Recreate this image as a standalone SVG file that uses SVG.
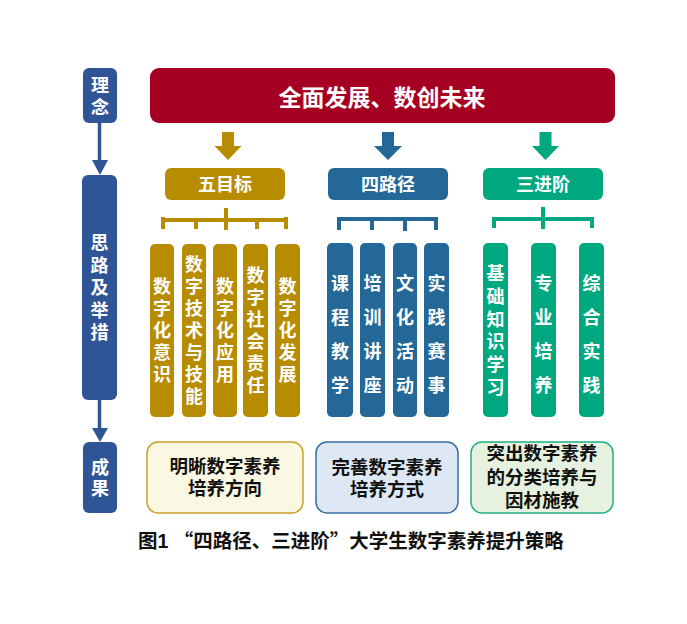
<svg xmlns="http://www.w3.org/2000/svg" width="687" height="624" viewBox="0 0 687 624">
<style>
text{font-family:"Liberation Sans","Noto Sans CJK SC",sans-serif;font-weight:700;text-anchor:middle}
.w{fill:#fff}
.k{fill:#111}
.navy{fill:#2F5597}
.gold{fill:#B88C00}
.blue{fill:#236897}
.teal{fill:#00A87F}
.f18{font-size:18px}
.cjk{font-family:"Noto Sans CJK SC",sans-serif}
.gl{stroke:#B88C00;stroke-width:4;fill:none}
.bl{stroke:#236897;stroke-width:4;fill:none}
.tl{stroke:#00A87F;stroke-width:4;fill:none}
.nl{stroke:#2F5597;stroke-width:3.5;fill:none}
</style>
<rect width="687" height="624" fill="#fff"/>

<g id="left-linian">
<rect class="navy" x="83" y="68" width="34" height="55" rx="6"/>
<text class="w f18"><tspan x="100" y="92">理</tspan><tspan x="100" y="114">念</tspan></text>
</g>
<g id="left-silu">
<rect class="navy" x="82" y="175" width="35" height="225" rx="6"/>
<text class="w f18"><tspan x="99.5" y="249">思</tspan><tspan x="99.5" y="271.5">路</tspan><tspan x="99.5" y="294">及</tspan><tspan x="99.5" y="316.5">举</tspan><tspan x="99.5" y="339">措</tspan></text>
</g>
<g id="left-chengguo">
<rect class="navy" x="83" y="442" width="34" height="71" rx="6"/>
<text class="w f18"><tspan x="100" y="474">成</tspan><tspan x="100" y="495">果</tspan></text>
</g>

<g id="banner">
<rect x="150" y="68" width="465" height="55" rx="9" fill="#A50021"/>
<text class="w" x="382" y="105.5" font-size="23">全面发展、数创未来</text>
</g>

<g id="connectors">
<line class="nl" x1="99.5" y1="123" x2="99.5" y2="162"/>
<polygon class="navy" points="92,160 108,160 100,175"/>
<line class="nl" x1="99.5" y1="400" x2="99.5" y2="430"/>
<polygon class="navy" points="92,428 108,428 100,442"/>
<polygon class="gold" points="222,132 234,132 234,146 241.5,146 228,160 214.5,146 222,146"/>
<polygon class="blue" points="382,132 394,132 394,146 402,146 388,160 374,146 382,146"/>
<polygon class="teal" points="539.5,132 551.5,132 551.5,146 559,146 545.5,160 532,146 539.5,146"/>
<path class="gl" d="M163,220 H286 M163,217 V229 M196,220 V229 M226,208 V230 M257,220 V229 M286,217 V229"/>
<path class="bl" d="M339,219 H436 M339,217 V230 M372,219 V230 M405,219 V231 M436,217 V230"/>
<path class="tl" d="M494,219 H592 M494,217 V228 M543,207 V229 M592,217 V228"/>
</g>

<g id="h-wumubiao">
<rect class="gold" x="165" y="168" width="120" height="32" rx="6"/>
<text class="w f18" x="225" y="191">五目标</text>
</g>
<g id="h-silujing">
<rect class="blue" x="328" y="168" width="120" height="32" rx="6"/>
<text class="w f18" x="388" y="191">四路径</text>
</g>
<g id="h-sanjinjie">
<rect class="teal" x="483" y="168" width="120" height="32" rx="6"/>
<text class="w f18" x="543" y="191">三进阶</text>
</g>

<g id="g1">
<rect class="gold" x="150" y="244" width="24" height="173" rx="5"/>
<text class="w f18"><tspan x="162" y="293">数</tspan><tspan x="162" y="315">字</tspan><tspan x="162" y="337">化</tspan><tspan x="162" y="359">意</tspan><tspan x="162" y="381">识</tspan></text>
</g>
<g id="g2">
<rect class="gold" x="182" y="244" width="24" height="173" rx="5"/>
<text class="w f18"><tspan x="194" y="271">数</tspan><tspan x="194" y="293">字</tspan><tspan x="194" y="315">技</tspan><tspan x="194" y="337">术</tspan><tspan x="194" y="359">与</tspan><tspan x="194" y="381">技</tspan><tspan x="194" y="403">能</tspan></text>
</g>
<g id="g3">
<rect class="gold" x="213" y="244" width="24" height="173" rx="5"/>
<text class="w f18"><tspan x="225" y="293">数</tspan><tspan x="225" y="315">字</tspan><tspan x="225" y="337">化</tspan><tspan x="225" y="359">应</tspan><tspan x="225" y="381">用</tspan></text>
</g>
<g id="g4">
<rect class="gold" x="243" y="244" width="25" height="173" rx="5"/>
<text class="w f18"><tspan x="255.5" y="282">数</tspan><tspan x="255.5" y="304">字</tspan><tspan x="255.5" y="326">社</tspan><tspan x="255.5" y="348">会</tspan><tspan x="255.5" y="370">责</tspan><tspan x="255.5" y="392">任</tspan></text>
</g>
<g id="g5">
<rect class="gold" x="275" y="244" width="25" height="173" rx="5"/>
<text class="w f18"><tspan x="287.5" y="293">数</tspan><tspan x="287.5" y="315">字</tspan><tspan x="287.5" y="337">化</tspan><tspan x="287.5" y="359">发</tspan><tspan x="287.5" y="381">展</tspan></text>
</g>

<g id="b1">
<rect class="blue" x="327" y="243" width="26" height="174" rx="5"/>
<text class="w f18"><tspan x="340" y="290">课</tspan><tspan x="340" y="324">程</tspan><tspan x="340" y="358">教</tspan><tspan x="340" y="392">学</tspan></text>
</g>
<g id="b2">
<rect class="blue" x="360" y="243" width="25" height="174" rx="5"/>
<text class="w f18"><tspan x="372.5" y="290">培</tspan><tspan x="372.5" y="324">训</tspan><tspan x="372.5" y="358">讲</tspan><tspan x="372.5" y="392">座</tspan></text>
</g>
<g id="b3">
<rect class="blue" x="393" y="243" width="24" height="174" rx="5"/>
<text class="w f18"><tspan x="405" y="290">文</tspan><tspan x="405" y="324">化</tspan><tspan x="405" y="358">活</tspan><tspan x="405" y="392">动</tspan></text>
</g>
<g id="b4">
<rect class="blue" x="424" y="243" width="25" height="174" rx="5"/>
<text class="w f18"><tspan x="436.5" y="290">实</tspan><tspan x="436.5" y="324">践</tspan><tspan x="436.5" y="358">赛</tspan><tspan x="436.5" y="392">事</tspan></text>
</g>

<g id="t1">
<rect class="teal" x="483" y="243" width="25" height="174" rx="5"/>
<text class="w f18"><tspan x="495.5" y="280">基</tspan><tspan x="495.5" y="302.8">础</tspan><tspan x="495.5" y="325.6">知</tspan><tspan x="495.5" y="348.4">识</tspan><tspan x="495.5" y="371.2">学</tspan><tspan x="495.5" y="394">习</tspan></text>
</g>
<g id="t2">
<rect class="teal" x="531" y="243" width="25" height="174" rx="5"/>
<text class="w f18"><tspan x="543.5" y="290">专</tspan><tspan x="543.5" y="324">业</tspan><tspan x="543.5" y="358">培</tspan><tspan x="543.5" y="392">养</tspan></text>
</g>
<g id="t3">
<rect class="teal" x="579" y="243" width="25" height="174" rx="5"/>
<text class="w f18"><tspan x="591.5" y="290">综</tspan><tspan x="591.5" y="324">合</tspan><tspan x="591.5" y="358">实</tspan><tspan x="591.5" y="392">践</tspan></text>
</g>

<g id="r1">
<rect x="147" y="442" width="156" height="71" rx="11" fill="#FAF7E2" stroke="#C9A227" stroke-width="1.5"/>
<text class="k" font-size="18.5"><tspan x="225" y="473">明晰数字素养</tspan><tspan x="225" y="495">培养方向</tspan></text>
</g>
<g id="r2">
<rect x="316" y="442" width="142" height="71" rx="11" fill="#DEE8F4" stroke="#3A6EA0" stroke-width="1.5"/>
<text class="k" font-size="18.5"><tspan x="387" y="474">完善数字素养</tspan><tspan x="387" y="496">培养方式</tspan></text>
</g>
<g id="r3">
<rect x="471" y="442" width="142" height="71" rx="11" fill="#E7F1DF" stroke="#1FAE86" stroke-width="1.5"/>
<text class="k" font-size="18.5"><tspan x="542" y="460">突出数字素养</tspan><tspan x="542" y="484">的分类培养与</tspan><tspan x="542" y="507">因材施教</tspan></text>
</g>

<text class="k" x="138" y="548" font-size="19.5" style="text-anchor:start">图1 <tspan class="cjk">“</tspan>四路径、三进阶<tspan class="cjk">”</tspan>大学生数字素养提升策略</text>
</svg>
